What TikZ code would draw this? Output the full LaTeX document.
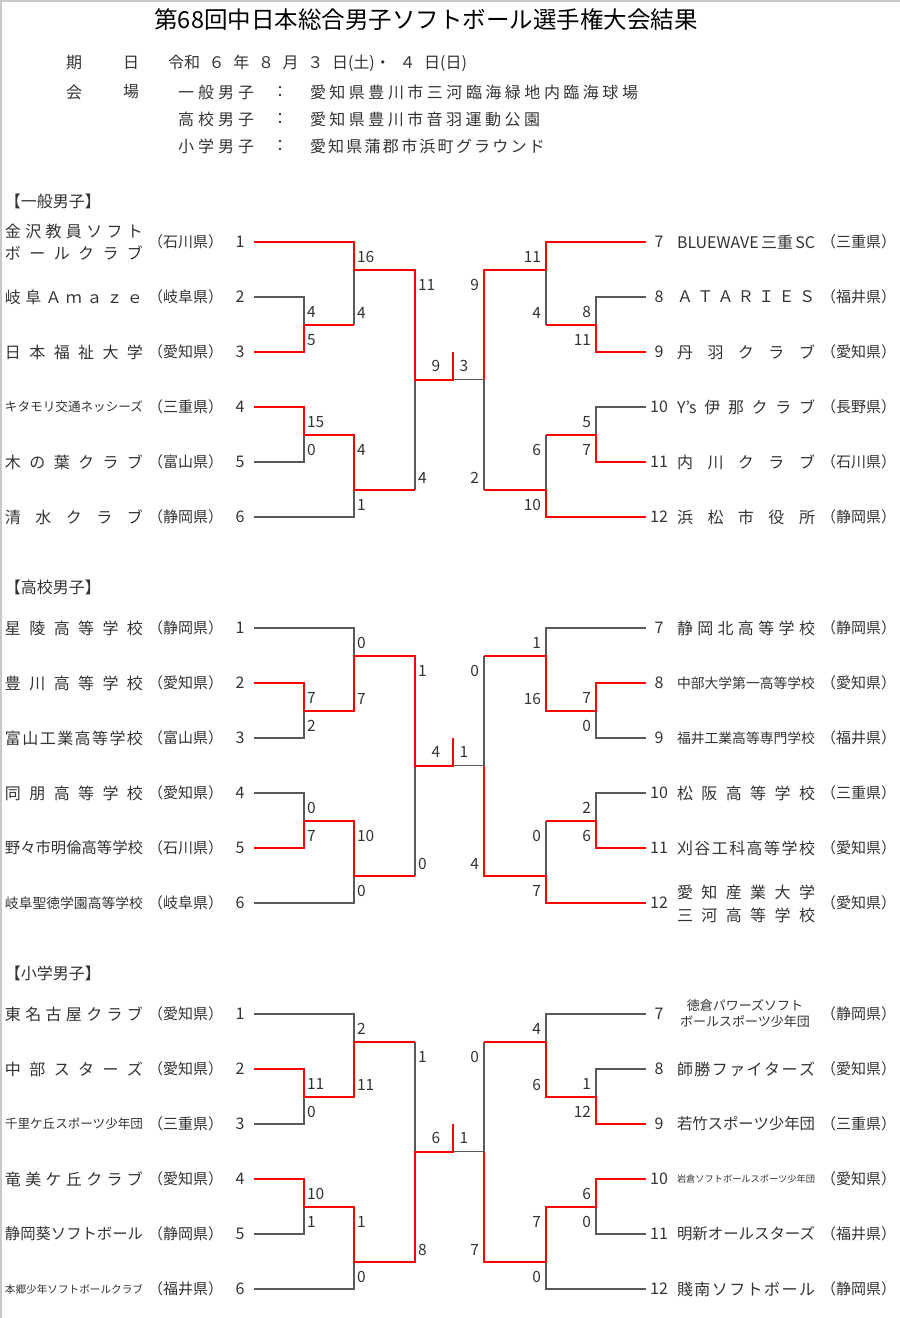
\documentclass[tikz,border=0pt]{standalone}
\usepackage{fontspec}
\usepackage{graphicx}
\setmainfont{Noto Sans CJK JP}
\definecolor{cff0000}{RGB}{255,0,0}
\definecolor{c595959}{RGB}{89,89,89}
\definecolor{c333333}{RGB}{51,51,51}
\definecolor{cc8c8c8}{RGB}{200,200,200}
\def \globalscale {1.000000}

% spread the characters of a name over a fixed width
\makeatletter
\newcommand\jspread[2]{\makebox[#1][s]{\@tfor\jsch:=#2\do{\jsch\hfill}\unskip}}
\makeatother
% spread a name, or shrink it when it is too long
\newsavebox\tnbox
\newcommand\tname[2]{\sbox\tnbox{#2}\ifdim\wd\tnbox>#1\relax\resizebox{#1}{!}{\usebox\tnbox}\else\jspread{#1}{#2}\fi}

\begin{document}
\begin{tikzpicture}[y=-1pt, x=1pt, yscale=\globalscale,xscale=\globalscale, every node/.append style={scale=\globalscale}, inner sep=0pt, outer sep=0pt,
  winner/.style={draw=cff0000,line width=2pt,line join=miter},
  loser/.style={draw=c595959,line width=1.3pt,line join=miter},
  team/.style={anchor=west,text=c333333,font=\fontsize{16}{18}\selectfont},
  pref/.style={anchor=west,text=c333333,font=\fontsize{15}{18}\selectfont},
  seed/.style={text=c333333,font=\fontsize{16}{18}\selectfont},
  lscore/.style={anchor=west,text=c333333,font=\fontsize{15.5}{18}\selectfont},
  rscore/.style={anchor=east,text=c333333,font=\fontsize{15.5}{18}\selectfont},
  cscore/.style={text=c333333,font=\fontsize{15.5}{18}\selectfont}]
  \useasboundingbox (0, 0) rectangle (900, 1318);
  \path[fill=white] (0, 0) rectangle (900, 1318);
  \path[draw=cc8c8c8,line width=2pt] (1, 1318) -- (1, 1) -- (900, 1);

  % heading
  \node[text=black,font=\fontsize{23.5}{26}\selectfont] (title) at (426, 20){第68回中日本総合男子ソフトボール選手権大会結果};
  \node[seed] (kiA) at (74, 63){期};
  \node[seed] (kiB) at (131, 63){日};
  \node[team] (dates) at (168, 63){\jspread{299pt}{{令和}６年８月３{日(土)・}４{日(日)}}};
  \node[seed] (kaiA) at (74, 92){会};
  \node[seed] (kaiB) at (131, 92){場};
  \node[team] (venA) at (178, 92){\jspread{76pt}{一般男子}};
  \node[seed] (colA) at (280, 92){：};
  \node[team] (placeA) at (310, 92){\jspread{328pt}{愛知県豊川市三河臨海緑地内臨海球場}};
  \node[team] (venB) at (178, 119){\jspread{76pt}{高校男子}};
  \node[seed] (colB) at (280, 119){：};
  \node[team] (placeB) at (310, 119){\jspread{230pt}{愛知県豊川市音羽運動公園}};
  \node[team] (venC) at (178, 146){\jspread{76pt}{小学男子}};
  \node[seed] (colC) at (280, 146){：};
  \node[team] (placeC) at (310, 146){\jspread{235pt}{愛知県蒲郡市浜町グラウンド}};

  % 一般男子
  \node[team] (headA) at (5, 201){【一般男子】};

  \path[loser] (254, 297) -- (304, 297) -- (304, 324.5);
  \path[loser] (354, 324.5) -- (354, 269.5);
  \path[loser] (254, 462) -- (304, 462) -- (304, 434.5);
  \path[loser] (254, 517) -- (354, 517) -- (354, 489.5);
  \path[loser] (415, 489.5) -- (415, 379.5);
  \path[loser] (453, 379.5) -- (484, 379.5);
  \path[loser] (646, 297) -- (596, 297) -- (596, 324.5);
  \path[loser] (546, 324.5) -- (546, 269.5);
  \path[loser] (646, 407) -- (596, 407) -- (596, 434.5);
  \path[loser] (546, 434.5) -- (546, 489.5);
  \path[loser] (484, 489.5) -- (484, 379.5);

  \path[winner] (254, 242) -- (354, 242) -- (354, 269.5) -- (415, 269.5) -- (415, 379.5) -- (453, 379.5) -- (453, 352);
  \path[winner] (254, 352) -- (304, 352) -- (304, 324.5) -- (354, 324.5);
  \path[winner] (254, 407) -- (304, 407) -- (304, 434.5) -- (354, 434.5) -- (354, 489.5) -- (415, 489.5);
  \path[winner] (646, 242) -- (546, 242) -- (546, 269.5) -- (484, 269.5) -- (484, 379.5);
  \path[winner] (646, 352) -- (596, 352) -- (596, 324.5) -- (546, 324.5);
  \path[winner] (646, 462) -- (596, 462) -- (596, 434.5) -- (546, 434.5);
  \path[winner] (646, 517) -- (546, 517) -- (546, 489.5) -- (484, 489.5);

  \node[team,align=left,font=\fontsize{16}{22}\selectfont] (nameA1) at (5, 242){\tname{138pt}{金沢教員ソフト}\\\tname{138pt}{ボールクラブ}};
  \node[team] (nameA2) at (5, 297){\tname{138pt}{岐阜Ａｍａｚｅ}};
  \node[team] (nameA3) at (5, 352){\tname{138pt}{日本福祉大学}};
  \node[team] (nameA4) at (5, 407){\tname{138pt}{キタモリ交通ネッシーズ}};
  \node[team] (nameA5) at (5, 462){\tname{138pt}{木の葉クラブ}};
  \node[team] (nameA6) at (5, 517){\tname{138pt}{清水クラブ}};
  \node[pref] (prefA1) at (148, 242){\tname{75pt}{（石川県）}};
  \node[pref] (prefA2) at (148, 297){\tname{75pt}{（岐阜県）}};
  \node[pref] (prefA3) at (148, 352){\tname{75pt}{（愛知県）}};
  \node[pref] (prefA4) at (148, 407){\tname{75pt}{（三重県）}};
  \node[pref] (prefA5) at (148, 462){\tname{75pt}{（富山県）}};
  \node[pref] (prefA6) at (148, 517){\tname{75pt}{（静岡県）}};
  \node[seed] (seedA1) at (240, 242){1};
  \node[seed] (seedA2) at (240, 297){2};
  \node[seed] (seedA3) at (240, 352){3};
  \node[seed] (seedA4) at (240, 407){4};
  \node[seed] (seedA5) at (240, 462){5};
  \node[seed] (seedA6) at (240, 517){6};
  \node[seed] (seedA7) at (659, 242){7};
  \node[seed] (seedA8) at (659, 297){8};
  \node[seed] (seedA9) at (659, 352){9};
  \node[seed] (seedA10) at (659, 407){10};
  \node[seed] (seedA11) at (659, 462){11};
  \node[seed] (seedA12) at (659, 517){12};
  \node[team] (nameA7) at (677, 242){\tname{138pt}{{BLUEWAVE}{三重}{SC}}};
  \node[team] (nameA8) at (677, 297){\tname{138pt}{ＡＴＡＲＩＥＳ}};
  \node[team] (nameA9) at (677, 352){\tname{138pt}{丹羽クラブ}};
  \node[team] (nameA10) at (677, 407){\tname{138pt}{{Y's}伊那クラブ}};
  \node[team] (nameA11) at (677, 462){\tname{138pt}{内川クラブ}};
  \node[team] (nameA12) at (677, 517){\tname{138pt}{浜松市役所}};
  \node[pref] (prefA7) at (821, 242){\tname{75pt}{（三重県）}};
  \node[pref] (prefA8) at (821, 297){\tname{75pt}{（福井県）}};
  \node[pref] (prefA9) at (821, 352){\tname{75pt}{（愛知県）}};
  \node[pref] (prefA10) at (821, 407){\tname{75pt}{（長野県）}};
  \node[pref] (prefA11) at (821, 462){\tname{75pt}{（石川県）}};
  \node[pref] (prefA12) at (821, 517){\tname{75pt}{（静岡県）}};

  \node[lscore] (scA1) at (307, 312){4};
  \node[lscore] (scA2) at (307, 340){5};
  \node[lscore] (scA3) at (357, 257){16};
  \node[lscore] (scA4) at (357, 312.5){4};
  \node[lscore] (scA5) at (307, 422){15};
  \node[lscore] (scA6) at (307, 450){0};
  \node[lscore] (scA7) at (357, 449.5){4};
  \node[lscore] (scA8) at (357, 505){1};
  \node[lscore] (scA9) at (418, 284.5){11};
  \node[lscore] (scA10) at (418, 477.5){4};
  \node[cscore] (scA11) at (436, 365.5){9};
  \node[cscore] (scA12) at (464, 365.5){3};
  \node[rscore] (scA13) at (541, 257){11};
  \node[rscore] (scA14) at (541, 312.5){4};
  \node[rscore] (scA15) at (591, 312){8};
  \node[rscore] (scA16) at (591, 340){11};
  \node[rscore] (scA17) at (479, 284.5){9};
  \node[rscore] (scA18) at (479, 477.5){2};
  \node[rscore] (scA19) at (591, 422){5};
  \node[rscore] (scA20) at (591, 450){7};
  \node[rscore] (scA21) at (541, 449.5){6};
  \node[rscore] (scA22) at (541, 505){10};

  % 高校男子
  \node[team] (headB) at (5, 587){【高校男子】};

  \path[loser] (254, 628) -- (354, 628) -- (354, 655.5);
  \path[loser] (254, 738) -- (304, 738) -- (304, 710.5);
  \path[loser] (254, 793) -- (304, 793) -- (304, 820.5);
  \path[loser] (254, 903) -- (354, 903) -- (354, 875.5);
  \path[loser] (415, 875.5) -- (415, 765.5);
  \path[loser] (453, 765.5) -- (484, 765.5);
  \path[loser] (646, 628) -- (546, 628) -- (546, 655.5);
  \path[loser] (646, 738) -- (596, 738) -- (596, 710.5);
  \path[loser] (484, 655.5) -- (484, 765.5);
  \path[loser] (646, 793) -- (596, 793) -- (596, 820.5);
  \path[loser] (546, 820.5) -- (546, 875.5);

  \path[winner] (254, 683) -- (304, 683) -- (304, 710.5) -- (354, 710.5) -- (354, 655.5) -- (415, 655.5) -- (415, 765.5) -- (453, 765.5) -- (453, 738);
  \path[winner] (254, 848) -- (304, 848) -- (304, 820.5) -- (354, 820.5) -- (354, 875.5) -- (415, 875.5);
  \path[winner] (646, 683) -- (596, 683) -- (596, 710.5) -- (546, 710.5) -- (546, 655.5) -- (484, 655.5);
  \path[winner] (646, 848) -- (596, 848) -- (596, 820.5) -- (546, 820.5);
  \path[winner] (646, 903) -- (546, 903) -- (546, 875.5) -- (484, 875.5) -- (484, 765.5);

  \node[team] (nameB1) at (5, 628){\tname{138pt}{星陵高等学校}};
  \node[team] (nameB2) at (5, 683){\tname{138pt}{豊川高等学校}};
  \node[team] (nameB3) at (5, 738){\tname{138pt}{富山工業高等学校}};
  \node[team] (nameB4) at (5, 793){\tname{138pt}{同朋高等学校}};
  \node[team] (nameB5) at (5, 848){\tname{138pt}{野々市明倫高等学校}};
  \node[team] (nameB6) at (5, 903){\tname{138pt}{岐阜聖徳学園高等学校}};
  \node[pref] (prefB1) at (148, 628){\tname{75pt}{（静岡県）}};
  \node[pref] (prefB2) at (148, 683){\tname{75pt}{（愛知県）}};
  \node[pref] (prefB3) at (148, 738){\tname{75pt}{（富山県）}};
  \node[pref] (prefB4) at (148, 793){\tname{75pt}{（愛知県）}};
  \node[pref] (prefB5) at (148, 848){\tname{75pt}{（石川県）}};
  \node[pref] (prefB6) at (148, 903){\tname{75pt}{（岐阜県）}};
  \node[seed] (seedB1) at (240, 628){1};
  \node[seed] (seedB2) at (240, 683){2};
  \node[seed] (seedB3) at (240, 738){3};
  \node[seed] (seedB4) at (240, 793){4};
  \node[seed] (seedB5) at (240, 848){5};
  \node[seed] (seedB6) at (240, 903){6};
  \node[seed] (seedB7) at (659, 628){7};
  \node[seed] (seedB8) at (659, 683){8};
  \node[seed] (seedB9) at (659, 738){9};
  \node[seed] (seedB10) at (659, 793){10};
  \node[seed] (seedB11) at (659, 848){11};
  \node[seed] (seedB12) at (659, 903){12};
  \node[team] (nameB7) at (677, 628){\tname{138pt}{静岡北高等学校}};
  \node[team] (nameB8) at (677, 683){\tname{138pt}{中部大学第一高等学校}};
  \node[team] (nameB9) at (677, 738){\tname{138pt}{福井工業高等専門学校}};
  \node[team] (nameB10) at (677, 793){\tname{138pt}{松阪高等学校}};
  \node[team] (nameB11) at (677, 848){\tname{138pt}{刈谷工科高等学校}};
  \node[team,align=left,font=\fontsize{16}{23}\selectfont] (nameB12) at (677, 904){\tname{138pt}{愛知産業大学}\\\tname{138pt}{三河高等学校}};
  \node[pref] (prefB7) at (821, 628){\tname{75pt}{（静岡県）}};
  \node[pref] (prefB8) at (821, 683){\tname{75pt}{（愛知県）}};
  \node[pref] (prefB9) at (821, 738){\tname{75pt}{（福井県）}};
  \node[pref] (prefB10) at (821, 793){\tname{75pt}{（三重県）}};
  \node[pref] (prefB11) at (821, 848){\tname{75pt}{（愛知県）}};
  \node[pref] (prefB12) at (821, 903){\tname{75pt}{（愛知県）}};

  \node[lscore] (scB1) at (357, 643){0};
  \node[lscore] (scB2) at (357, 698.5){7};
  \node[lscore] (scB3) at (307, 698){7};
  \node[lscore] (scB4) at (307, 726){2};
  \node[lscore] (scB5) at (418, 670.5){1};
  \node[lscore] (scB6) at (418, 863.5){0};
  \node[lscore] (scB7) at (307, 808){0};
  \node[lscore] (scB8) at (307, 836){7};
  \node[lscore] (scB9) at (357, 835.5){10};
  \node[lscore] (scB10) at (357, 891){0};
  \node[cscore] (scB11) at (436, 751.5){4};
  \node[cscore] (scB12) at (464, 751.5){1};
  \node[rscore] (scB13) at (541, 643){1};
  \node[rscore] (scB14) at (541, 698.5){16};
  \node[rscore] (scB15) at (591, 698){7};
  \node[rscore] (scB16) at (591, 726){0};
  \node[rscore] (scB17) at (479, 670.5){0};
  \node[rscore] (scB18) at (479, 863.5){4};
  \node[rscore] (scB19) at (591, 808){2};
  \node[rscore] (scB20) at (591, 836){6};
  \node[rscore] (scB21) at (541, 835.5){0};
  \node[rscore] (scB22) at (541, 891){7};

  % 小学男子
  \node[team] (headC) at (5, 973){【小学男子】};

  \path[loser] (254, 1014) -- (354, 1014) -- (354, 1041.5);
  \path[loser] (254, 1124) -- (304, 1124) -- (304, 1096.5);
  \path[loser] (415, 1041.5) -- (415, 1151.5);
  \path[loser] (254, 1234) -- (304, 1234) -- (304, 1206.5);
  \path[loser] (254, 1289) -- (354, 1289) -- (354, 1261.5);
  \path[loser] (453, 1151.5) -- (484, 1151.5);
  \path[loser] (646, 1014) -- (546, 1014) -- (546, 1041.5);
  \path[loser] (646, 1069) -- (596, 1069) -- (596, 1096.5);
  \path[loser] (484, 1041.5) -- (484, 1151.5);
  \path[loser] (646, 1234) -- (596, 1234) -- (596, 1206.5);
  \path[loser] (646, 1289) -- (546, 1289) -- (546, 1261.5);

  \path[winner] (254, 1069) -- (304, 1069) -- (304, 1096.5) -- (354, 1096.5) -- (354, 1041.5) -- (415, 1041.5);
  \path[winner] (254, 1179) -- (304, 1179) -- (304, 1206.5) -- (354, 1206.5) -- (354, 1261.5) -- (415, 1261.5) -- (415, 1151.5) -- (453, 1151.5) -- (453, 1124);
  \path[winner] (646, 1124) -- (596, 1124) -- (596, 1096.5) -- (546, 1096.5) -- (546, 1041.5) -- (484, 1041.5);
  \path[winner] (646, 1179) -- (596, 1179) -- (596, 1206.5) -- (546, 1206.5) -- (546, 1261.5) -- (484, 1261.5) -- (484, 1151.5);

  \node[team] (nameC1) at (5, 1014){\tname{138pt}{東名古屋クラブ}};
  \node[team] (nameC2) at (5, 1069){\tname{138pt}{中部スターズ}};
  \node[team] (nameC3) at (5, 1124){\tname{138pt}{千里ケ丘スポーツ少年団}};
  \node[team] (nameC4) at (5, 1179){\tname{138pt}{竜美ケ丘クラブ}};
  \node[team] (nameC5) at (5, 1234){\tname{138pt}{静岡葵ソフトボール}};
  \node[team] (nameC6) at (5, 1289){\tname{138pt}{本郷少年ソフトボールクラブ}};
  \node[pref] (prefC1) at (148, 1014){\tname{75pt}{（愛知県）}};
  \node[pref] (prefC2) at (148, 1069){\tname{75pt}{（愛知県）}};
  \node[pref] (prefC3) at (148, 1124){\tname{75pt}{（三重県）}};
  \node[pref] (prefC4) at (148, 1179){\tname{75pt}{（愛知県）}};
  \node[pref] (prefC5) at (148, 1234){\tname{75pt}{（静岡県）}};
  \node[pref] (prefC6) at (148, 1289){\tname{75pt}{（福井県）}};
  \node[seed] (seedC1) at (240, 1014){1};
  \node[seed] (seedC2) at (240, 1069){2};
  \node[seed] (seedC3) at (240, 1124){3};
  \node[seed] (seedC4) at (240, 1179){4};
  \node[seed] (seedC5) at (240, 1234){5};
  \node[seed] (seedC6) at (240, 1289){6};
  \node[seed] (seedC7) at (659, 1014){7};
  \node[seed] (seedC8) at (659, 1069){8};
  \node[seed] (seedC9) at (659, 1124){9};
  \node[seed] (seedC10) at (659, 1179){10};
  \node[seed] (seedC11) at (659, 1234){11};
  \node[seed] (seedC12) at (659, 1289){12};
  \node[seed,align=center,font=\fontsize{13}{17}\selectfont] (nameC7) at (745, 1013.5){徳倉パワーズソフト\\ボールスポーツ少年団};
  \node[team] (nameC8) at (677, 1069){\tname{138pt}{師勝ファイターズ}};
  \node[team] (nameC9) at (677, 1124){\tname{138pt}{若竹スポーツ少年団}};
  \node[team] (nameC10) at (677, 1179){\tname{138pt}{岩倉ソフトボールスポーツ少年団}};
  \node[team] (nameC11) at (677, 1234){\tname{138pt}{明新オールスターズ}};
  \node[team] (nameC12) at (677, 1289){\tname{138pt}{賤南ソフトボール}};
  \node[pref] (prefC7) at (821, 1014){\tname{75pt}{（静岡県）}};
  \node[pref] (prefC8) at (821, 1069){\tname{75pt}{（愛知県）}};
  \node[pref] (prefC9) at (821, 1124){\tname{75pt}{（三重県）}};
  \node[pref] (prefC10) at (821, 1179){\tname{75pt}{（愛知県）}};
  \node[pref] (prefC11) at (821, 1234){\tname{75pt}{（福井県）}};
  \node[pref] (prefC12) at (821, 1289){\tname{75pt}{（静岡県）}};

  \node[lscore] (scC1) at (357, 1029){2};
  \node[lscore] (scC2) at (357, 1084.5){11};
  \node[lscore] (scC3) at (307, 1084){11};
  \node[lscore] (scC4) at (307, 1112){0};
  \node[lscore] (scC5) at (418, 1056.5){1};
  \node[lscore] (scC6) at (418, 1249.5){8};
  \node[lscore] (scC7) at (307, 1194){10};
  \node[lscore] (scC8) at (307, 1222){1};
  \node[lscore] (scC9) at (357, 1221.5){1};
  \node[lscore] (scC10) at (357, 1277){0};
  \node[cscore] (scC11) at (436, 1137.5){6};
  \node[cscore] (scC12) at (464, 1137.5){1};
  \node[rscore] (scC13) at (541, 1029){4};
  \node[rscore] (scC14) at (541, 1084.5){6};
  \node[rscore] (scC15) at (591, 1084){1};
  \node[rscore] (scC16) at (591, 1112){12};
  \node[rscore] (scC17) at (479, 1056.5){0};
  \node[rscore] (scC18) at (479, 1249.5){7};
  \node[rscore] (scC19) at (591, 1194){6};
  \node[rscore] (scC20) at (591, 1222){0};
  \node[rscore] (scC21) at (541, 1221.5){7};
  \node[rscore] (scC22) at (541, 1277){0};

\end{tikzpicture}
\end{document}
